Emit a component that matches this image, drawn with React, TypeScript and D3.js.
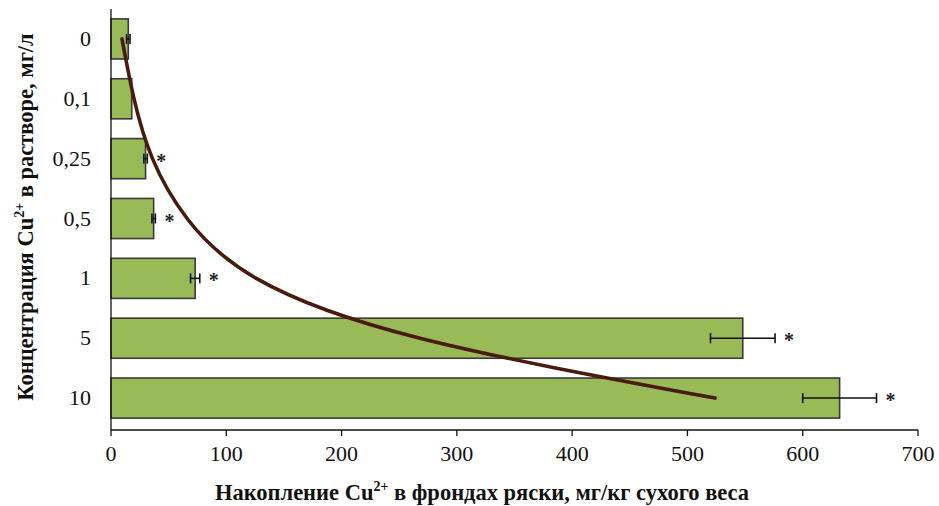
import React from "react";
import * as d3 from "d3";

const categories = ["0", "0,1", "0,25", "0,5", "1", "5", "10"];
const values = [15, 18, 30, 37, 73, 548, 632];
const errors = [1.5, 0, 1.5, 1.5, 4, 28, 32];
const significant = [false, false, true, true, true, true, true];
const trendValues = [9.5, 20, 36, 66, 126, 268, 524];
const xTicks = [0, 100, 200, 300, 400, 500, 600, 700];

const W = 939;
const H = 506;

export default function App() {
  const x = d3.scaleLinear().domain([0, 700]).range([111, 918]);
  const y = d3.scaleBand<string>().domain(categories).range([9, 428]).paddingInner(0.33).paddingOuter(0.165);
  const axisY = 430;
  const bw = y.bandwidth();
  const cy = (c: string) => (y(c) as number) + bw / 2;

  const line = d3
    .line<number>()
    .x((v) => x(v))
    .y((_, i) => cy(categories[i]))
    .curve(d3.curveNatural);

  const font = "'Liberation Serif', 'Times New Roman', serif";

  return (
    <svg width={W} height={H} style={{ position: "absolute", left: 0, top: 0, background: "#fff" }} fontFamily={font}>
      <rect x={0} y={0} width={W} height={H} fill="#fff" />
      {categories.map((c, i) => (
        <rect
          key={"b" + c}
          x={x(0)}
          y={y(c)}
          width={x(values[i]) - x(0)}
          height={bw}
          fill="#98ba57"
          stroke="#3a3a3a"
          strokeWidth={1.6}
        />
      ))}
      {categories.map((c, i) =>
        errors[i] > 0 ? (
          <g key={"e" + c} stroke="#111" strokeWidth={1.6}>
            <line x1={x(values[i] - errors[i])} x2={x(values[i] + errors[i])} y1={cy(c)} y2={cy(c)} />
            <line x1={x(values[i] - errors[i])} x2={x(values[i] - errors[i])} y1={cy(c) - 5} y2={cy(c) + 5} />
            <line x1={x(values[i] + errors[i])} x2={x(values[i] + errors[i])} y1={cy(c) - 5} y2={cy(c) + 5} />
          </g>
        ) : null
      )}
      {categories.map((c, i) =>
        significant[i] ? (
          <text key={"s" + c} x={x(values[i] + errors[i]) + 14} y={cy(c) + 9} fontSize={20} fontWeight="bold" textAnchor="middle" fill="#222">
            *
          </text>
        ) : null
      )}
      <path d={line(trendValues) || ""} fill="none" stroke="#4a1a0c" strokeWidth={3.6} strokeLinecap="round" />
      <line x1={x(0)} x2={x(0)} y1={9} y2={axisY} stroke="#111" strokeWidth={1.3} />
      <line x1={x(0)} x2={x(700)} y1={axisY} y2={axisY} stroke="#111" strokeWidth={1.3} />
      {xTicks.map((t) => (
        <g key={"t" + t}>
          <line x1={x(t)} x2={x(t)} y1={axisY} y2={axisY + 6} stroke="#111" strokeWidth={1.3} />
          <text x={x(t)} y={461} fontSize={22} textAnchor="middle" fill="#111">
            {t}
          </text>
        </g>
      ))}
      {categories.map((c) => (
        <text key={"l" + c} x={91} y={cy(c) + 7} fontSize={22} textAnchor="end" fill="#111">
          {c}
        </text>
      ))}
      <text x={482} y={500} fontSize={22.5} fontWeight="bold" textAnchor="middle" fill="#111">
        Накопление Cu
        <tspan fontSize={14} dy={-9}>2+</tspan>
        <tspan dy={9}> в фрондах ряски, мг/кг сухого веса</tspan>
      </text>
      <text transform="translate(33,217) rotate(-90)" fontSize={22.5} fontWeight="bold" textAnchor="middle" fill="#111">
        Концентрация  Cu
        <tspan fontSize={14} dy={-9}>2+</tspan>
        <tspan dy={9}> в растворе, мг/л</tspan>
      </text>
    </svg>
  );
}
